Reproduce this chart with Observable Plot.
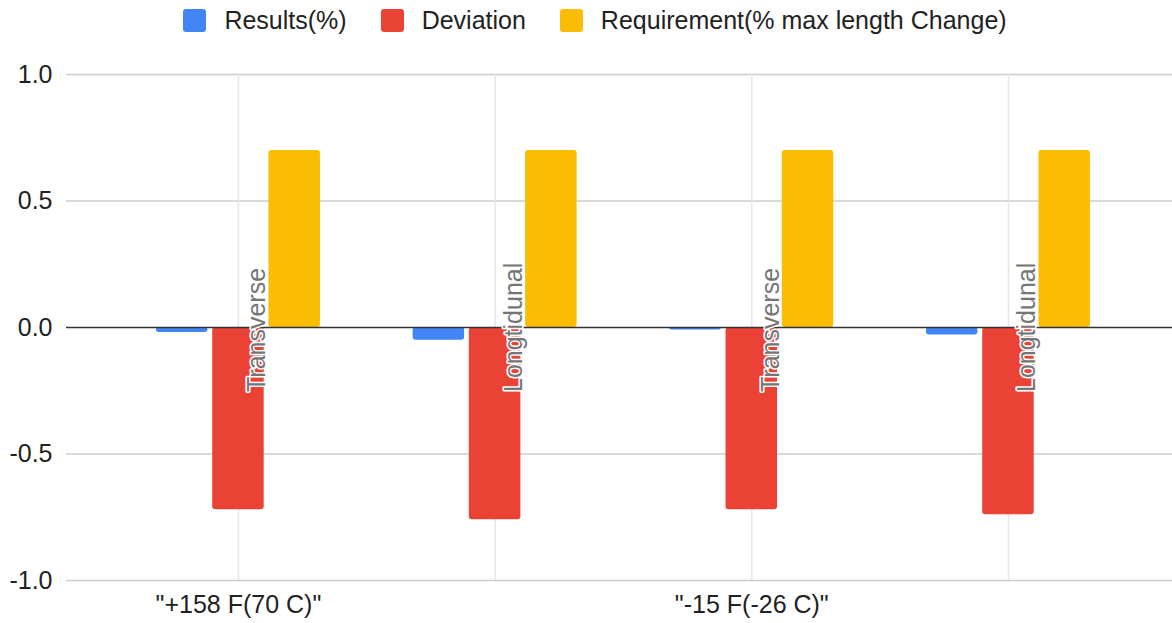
<!DOCTYPE html>
<html>
<head>
<meta charset="utf-8">
<script src="https://cdn.jsdelivr.net/npm/d3@7"></script>
<script src="https://cdn.jsdelivr.net/npm/@observablehq/plot@0.6"></script>
<style>
  html, body { margin: 0; padding: 0; background: #fff; }
  body { width: 1172px; height: 623px; overflow: hidden; font-family: "Liberation Sans", Arial, sans-serif; }
  #legend { height: 40px; display: flex; align-items: center; justify-content: center; padding-left: 18px; box-sizing: border-box; font-size: 25px; color: #222; }
  .item { display: flex; align-items: center; margin: 0 17px; }
  .sw { width: 23px; height: 23px; border-radius: 3px; margin-right: 18px; }
</style>
</head>
<body>
<div id="legend"></div>
<div id="chart"></div>
<script>
// ---- data ----
const categories = [0, 1, 2, 3];
const tempLabels = ['"+158 F(70 C)"', '"+158 F(70 C)"', '"-15 F(-26 C)"', '"-15 F(-26 C)"'];
const directions = ["Transverse", "Longtidunal", "Transverse", "Longtidunal"];
const seriesNames = ["Results(%)", "Deviation", "Requirement(% max length Change)"];
const seriesColors = ["#4285F4", "#EA4335", "#FBBC04"];
const results = [-0.02, -0.05, -0.01, -0.03];
const deviation = [-0.72, -0.76, -0.72, -0.74];
const requirement = [0.7, 0.7, 0.7, 0.7];
const yTicks = [-1, -0.5, 0, 0.5, 1];
const xLabelTicks = [0, 2];

const seriesValues = [results, deviation, requirement];
const rows = seriesNames.map((s, k) => categories.map(c => ({cat: c, series: s, value: seriesValues[k][c]})));

// legend
const legend = document.getElementById("legend");
seriesNames.forEach((s, k) => {
  const it = document.createElement("div");
  it.className = "item";
  it.innerHTML = `<span class="sw" style="background:${seriesColors[k]}"></span><span>${s}</span>`;
  legend.appendChild(it);
});

// bar insets inside each category band (band width ~164px, 3 bars ~51.5px)
const insets = [
  {insetLeft: 0, insetRight: 112.5},
  {insetLeft: 56.25, insetRight: 56.25},
  {insetLeft: 112.5, insetRight: 0}
];

const chart = Plot.plot({
  width: 1172,
  height: 583,
  marginTop: 34,
  marginBottom: 43,
  marginLeft: 66,
  marginRight: 0,
  style: {fontFamily: '"Liberation Sans", Arial, sans-serif', fontSize: "25px", color: "#222", background: "#fff"},
  x: {type: "band", domain: categories, paddingInner: 0.361, paddingOuter: 0.335, align: 0.523, round: false},
  y: {domain: [-1, 1]},
  marks: [
    Plot.ruleY(yTicks.filter(d => d !== 0), {stroke: "#cccccc", strokeWidth: 1.6}),
    Plot.ruleX(categories, {x: d => d, stroke: "#e6e6e6", strokeWidth: 1.5}),
    ...rows.map((r, k) => Plot.barY(r, {x: "cat", y: "value", fill: seriesColors[k], rx: 3, ...insets[k]})),
    Plot.ruleY([0], {stroke: "#333", strokeWidth: 1.5}),
    Plot.text(categories, {
      x: d => d, y: -0.255, text: d => directions[d], rotate: -90, textAnchor: "start",
      dx: 19, fill: "#757575", stroke: "white", strokeWidth: 3, fontSize: 25
    }),
    Plot.axisY({ticks: yTicks, tickFormat: d => d.toFixed(1), tickSize: 0, tickPadding: 14, fontSize: 25, label: null}),
    Plot.axisX({ticks: xLabelTicks, tickFormat: d => tempLabels[d], tickSize: 0, tickPadding: 15, fontSize: 25, label: null})
  ]
});
document.getElementById("chart").appendChild(chart);
</script>
</body>
</html>
